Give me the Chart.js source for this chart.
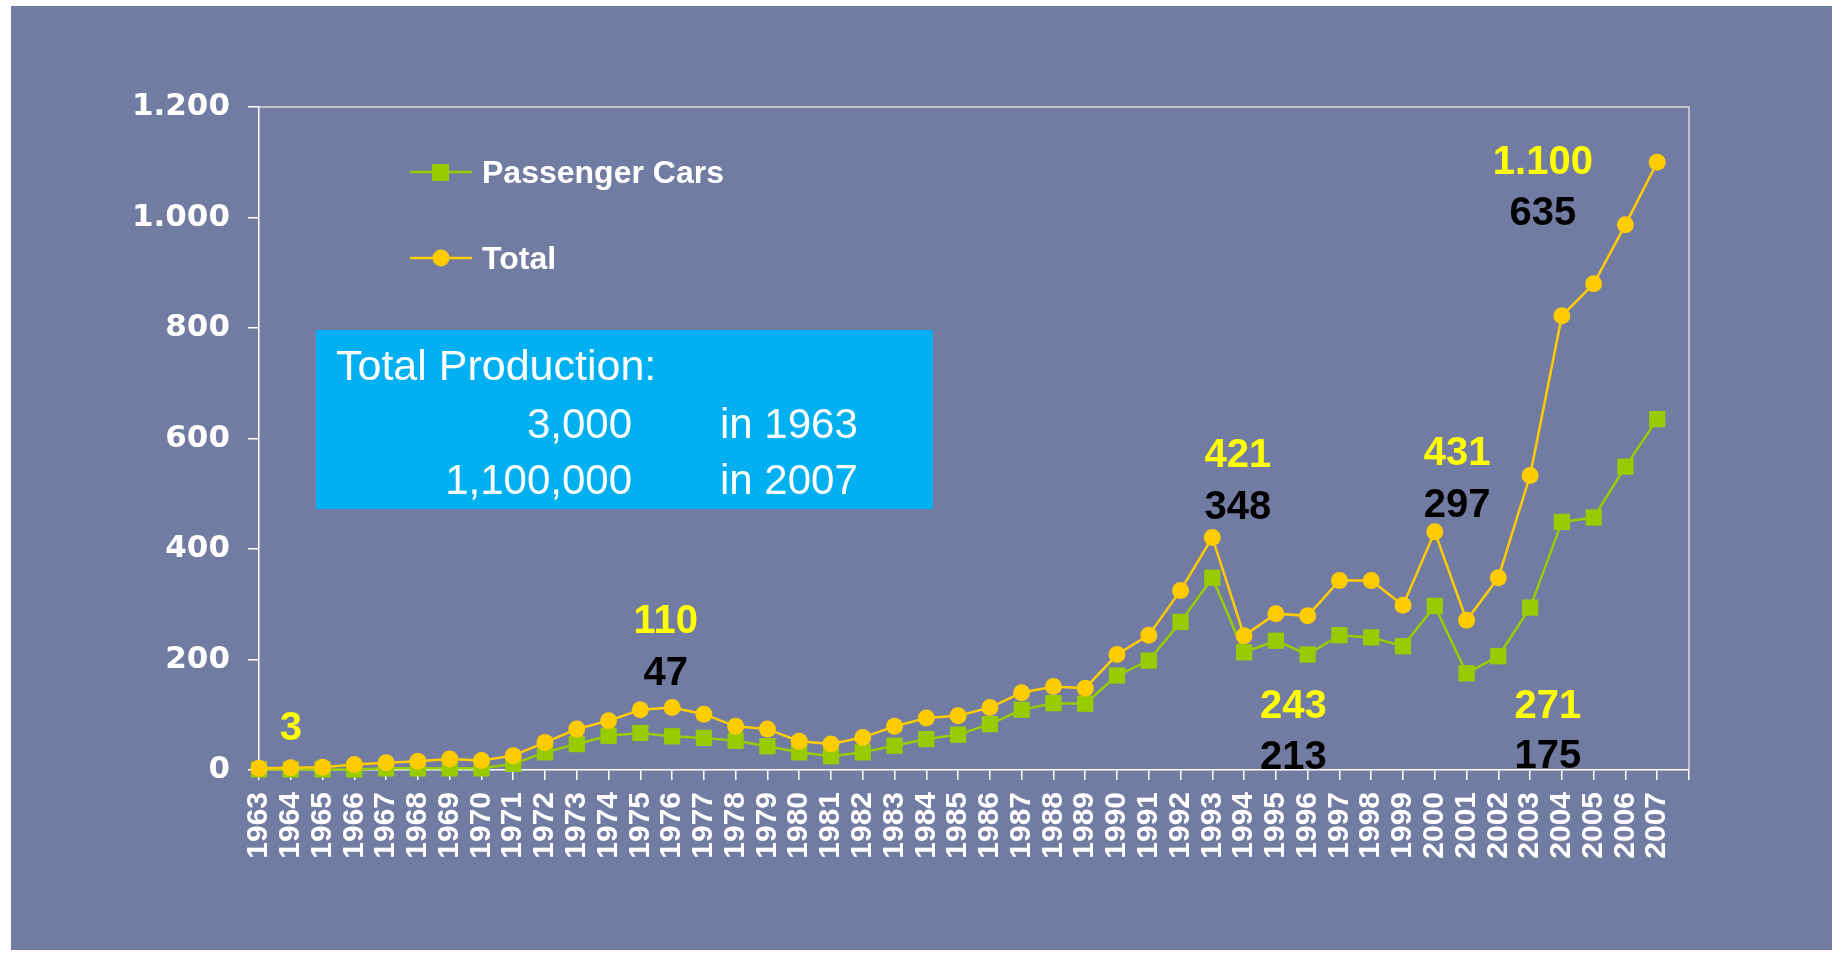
<!DOCTYPE html>
<html>
<head>
<meta charset="utf-8">
<title>Production 1963 - 2007</title>
<script src="https://cdn.jsdelivr.net/npm/chart.js@4.4.0/dist/chart.umd.min.js"></script>
<style>
  html, body { margin: 0; padding: 0; background: #fff; }
  canvas { display: block; }
</style>
</head>
<body>
<canvas id="prodChart" width="1836" height="953"></canvas>
<script>
/* Data */
const years = [1963, 1964, 1965, 1966, 1967, 1968, 1969, 1970, 1971, 1972,
    1973, 1974, 1975, 1976, 1977, 1978, 1979, 1980, 1981, 1982,
    1983, 1984, 1985, 1986, 1987, 1988, 1989, 1990, 1991, 1992,
    1993, 1994, 1995, 1996, 1997, 1998, 1999, 2000, 2001, 2002,
    2003, 2004, 2005, 2006, 2007];
const passengerCars = [1, 1, 1, 1, 3, 3, 3, 3, 11, 32,
    47, 62, 67, 61, 58, 53, 43, 32, 25, 32,
    44, 56, 64, 83, 109, 121, 120, 171, 198, 268,
    348, 213, 234, 209, 244, 240, 224, 297, 175, 206,
    294, 449, 457, 549, 635];
const totalProduction = [3, 4, 5, 10, 13, 16, 20, 17, 26, 50,
    74, 89, 109, 113, 101, 79, 74, 52, 47, 59,
    79, 94, 98, 113, 140, 151, 148, 209, 244, 325,
    421, 243, 283, 279, 343, 343, 298, 431, 271, 348,
    533, 822, 880, 987, 1100];
const yMin = 0, yMax = 1200, yStep = 200;

// numbers written on the slide: yellow = total, black = passenger cars
const calloutText = ['3', '110', '47', '421', '348', '243', '213', '431', '297', '271', '175', '1.100', '635'];
const calloutColor = ['#FFFF00', '#FFFF00', '#000000', '#FFFF00', '#000000', '#FFFF00', '#000000',
    '#FFFF00', '#000000', '#FFFF00', '#000000', '#FFFF00', '#000000'];
// where they sit: category index and value of the text baseline
const calloutX = [1.0, 12.8, 12.8, 30.8, 30.8, 32.55, 32.55, 37.7, 37.7, 40.56, 40.56, 40.4, 40.4];
const calloutY = [54, 248, 154, 548, 454, 94, 2, 552, 458, 94, 4, 1079, 986];

const GREEN = '#99CC00', YELLOW = '#FFCC00';
const ARIAL = 'Arial, "Liberation Sans", sans-serif';

function dotThousands(v) {
    return String(v).replace(/\B(?=(\d{3})+(?!\d))/g, '.');
}

/* Slide background, box, legend and callouts */
const slidePlugin = {
    id: 'slide',
    beforeDraw(chart) {
        const c = chart.ctx;
        c.save();
        c.fillStyle = '#ffffff';
        c.fillRect(0, 0, chart.width, chart.height);
        c.fillStyle = '#727CA2';
        c.fillRect(11, 6, 1821, 944);
        c.restore();
    },
    beforeDatasetsDraw(chart) {
        const c = chart.ctx, a = chart.chartArea;
        c.save();
        // top and right frame of the plot
        c.strokeStyle = '#D9D9D9';
        c.lineWidth = 1.5;
        c.beginPath();
        c.moveTo(a.left, a.top);
        c.lineTo(a.right, a.top);
        c.lineTo(a.right, a.bottom);
        c.stroke();

        // info box
        c.fillStyle = '#00B0F0';
        c.fillRect(316, 330, 617, 179);
        c.fillStyle = '#ffffff';
        c.textBaseline = 'alphabetic';
        c.textAlign = 'left';
        c.font = '43px ' + ARIAL;
        c.fillText('Total Production:', 336, 380);
        c.font = '42px ' + ARIAL;
        c.textAlign = 'right';
        c.fillText('3,000', 632, 438);
        c.fillText('1,100,000', 632, 494);
        c.textAlign = 'left';
        c.fillText('in 1963', 720, 438);
        c.fillText('in 2007', 720, 494);

        // legend
        legendItem(c, 172, GREEN, 'rect', 'Passenger Cars');
        legendItem(c, 258, YELLOW, 'circle', 'Total');
        c.restore();
    },
    afterDatasetsDraw(chart) {
        const c = chart.ctx;
        const xs = chart.scales.x, ys = chart.scales.y;
        c.save();
        c.font = 'bold 40px ' + ARIAL;
        c.textAlign = 'center';
        c.textBaseline = 'alphabetic';
        for (let i = 0; i < calloutText.length; i++) {
            c.fillStyle = calloutColor[i];
            c.fillText(calloutText[i], xs.getPixelForValue(calloutX[i]), ys.getPixelForValue(calloutY[i]));
        }
        c.restore();
    }
};

function legendItem(c, y, color, style, text) {
    c.strokeStyle = color;
    c.lineWidth = 2.5;
    c.beginPath();
    c.moveTo(410, y);
    c.lineTo(472, y);
    c.stroke();
    c.fillStyle = color;
    if (style === 'rect') {
        c.fillRect(432, y - 8, 17, 17);
    } else {
        c.beginPath();
        c.arc(441, y, 8.5, 0, Math.PI * 2);
        c.fill();
    }
    c.fillStyle = '#ffffff';
    c.font = 'bold 32px ' + ARIAL;
    c.textAlign = 'left';
    c.textBaseline = 'alphabetic';
    c.fillText(text, 482, y + 11);
}

/* Chart */
const ctx = document.getElementById('prodChart').getContext('2d');
const prodChart = new Chart(ctx, {
    type: 'line',
    data: {
        labels: years.map(String).concat(['']),
        datasets: [{
            label: 'Passenger Cars',
            data: passengerCars,
            borderColor: GREEN,
            backgroundColor: GREEN,
            borderWidth: 2.5,
            pointStyle: 'rect',
            pointRadius: 11.5,
            pointBorderWidth: 0,
            pointBackgroundColor: GREEN,
            order: 1,
            clip: false
        },
        {
            label: 'Total',
            data: totalProduction,
            borderColor: YELLOW,
            backgroundColor: YELLOW,
            borderWidth: 2.5,
            pointStyle: 'circle',
            pointRadius: 8.5,
            pointBorderWidth: 0,
            pointBackgroundColor: YELLOW,
            order: 0,
            clip: false
        }]
    },
    options: {
        responsive: false,
        animation: false,
        layout: {
            padding: { left: 0, top: 107, right: 147, bottom: 0 }
        },
        plugins: {
            legend: { display: false },
            tooltip: { enabled: false }
        },
        scales: {
            x: {
                type: 'category',
                offset: false,
                afterFit(scale) { scale.height = 183; },
                border: { display: true, color: '#ffffff', width: 1.5 },
                grid: {
                    drawOnChartArea: false,
                    drawTicks: true,
                    tickLength: 10,
                    color: '#ffffff',
                    lineWidth: 1.5
                },
                ticks: {
                    autoSkip: false,
                    minRotation: 90,
                    maxRotation: 90,
                    padding: 12,
                    color: '#ffffff',
                    font: { family: ARIAL, size: 30, weight: 'bold' }
                }
            },
            y: {
                min: yMin,
                max: yMax,
                afterFit(scale) { scale.width = 259; },
                border: { display: true, color: '#ffffff', width: 1.5 },
                grid: {
                    drawOnChartArea: false,
                    drawTicks: true,
                    tickLength: 11,
                    color: '#ffffff',
                    lineWidth: 1.5
                },
                ticks: {
                    stepSize: yStep,
                    padding: 18,
                    color: '#ffffff',
                    font: { family: '"DejaVu Sans", Verdana, sans-serif', size: 31, weight: 'bold' },
                    callback: (v) => dotThousands(v)
                }
            }
        }
    },
    plugins: [slidePlugin]
});
</script>
</body>
</html>
